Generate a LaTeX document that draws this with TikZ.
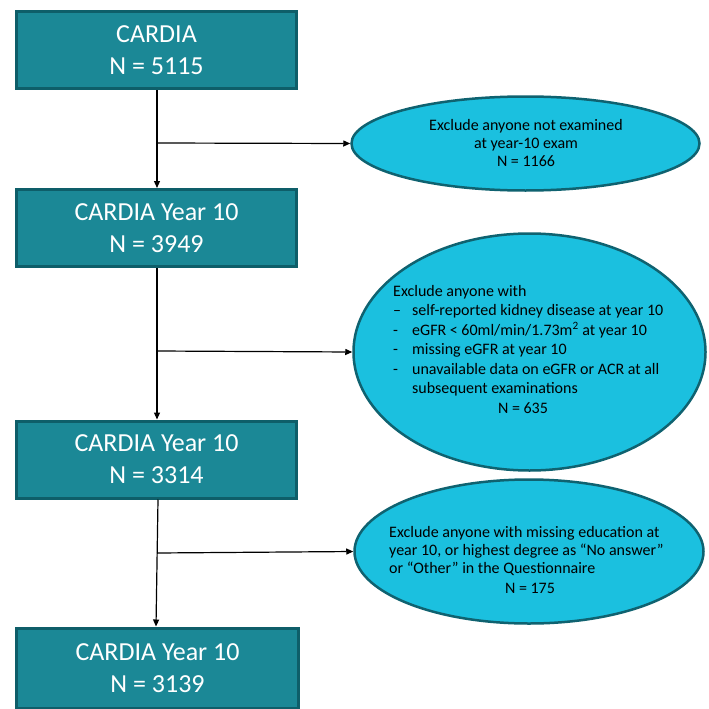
\documentclass[tikz,border=0pt]{standalone}
\usepackage{fontspec}
\setmainfont{Carlito}
\usetikzlibrary{shapes.geometric,arrows.meta}
\definecolor{boxfill}{HTML}{1B8896}
\definecolor{boxline}{HTML}{0E5E69}
\definecolor{ellfill}{HTML}{1BC0DF}
\definecolor{ellline}{HTML}{0F6270}
\tikzset{
  stagebox/.style={draw=boxline, fill=boxfill, line width=3pt, minimum width=280pt, minimum height=77pt, inner sep=0pt, text=white, align=center, font=\fontsize{26}{32}\selectfont},
  exclell/.style={draw=ellline, fill=ellfill, line width=2.5pt, ellipse, inner sep=0pt},
  etext/.style={inner sep=0pt, text=black, font=\fontsize{16}{19.5}\selectfont},
  etextsm/.style={inner sep=0pt, text=black, font=\fontsize{16}{18.2}\selectfont},
  flow/.style={line width=1.2pt, draw=black, -{Triangle[length=7pt,width=6pt]}},
  branch/.style={line width=1.2pt, draw=black, -{Triangle[length=7pt,width=6pt]}}
}
\begin{document}
\begin{tikzpicture}[x=1pt,y=-1pt]
\useasboundingbox (0,0) rectangle (709,709);
\clip (0,0) rectangle (709,709);
\fill[white] (0,0) rectangle (709,709);

\node[stagebox] (b1) at (156.5,50) {CARDIA\\N = 5115};
\node[stagebox] (b2) at (156.5,228) {CARDIA Year 10\\N = 3949};
\node[stagebox] (b3) at (156.5,459.5) {CARDIA Year 10\\N = 3314};
\node[stagebox, minimum width=282pt, minimum height=80pt] (b4) at (157.5,668) {CARDIA Year 10\\N = 3139};

\node[exclell, minimum width=348pt, minimum height=94pt] (e1) at (525.5,143.5) {};
\node[exclell, minimum width=352pt, minimum height=237pt] (e2) at (529.5,352) {};
\node[exclell, minimum width=349pt, minimum height=144pt] (e3) at (529,551.5) {};

\node[etextsm, align=center] (t1) at (526,143) {Exclude anyone not examined\\at year-10 exam\\N = 1166};

\node[etext, align=left, anchor=north west] (t2) at (393,285) {Exclude anyone with\\
\makebox[19pt][l]{–}self-reported kidney disease at year 10\\
\makebox[19pt][l]{-}eGFR < 60ml/min/1.73m\textsuperscript{2} at year 10\\
\makebox[19pt][l]{-}missing eGFR at year 10\\
\makebox[19pt][l]{-}unavailable data on eGFR or ACR at all\\
\makebox[19pt][l]{}subsequent examinations};
\node[etext] (t2n) at (523,408) {N = 635};

\node[etextsm, align=left, anchor=north west] (t3) at (389,526) {Exclude anyone with missing education at\\
year 10, or highest degree as “No answer”\\
or “Other” in the Questionnaire};
\node[etext] (t3n) at (530,588) {N = 175};

\coordinate (j1) at (157,143);
\coordinate (j2) at (157,351);
\coordinate (j3) at (157,553);

\draw[flow] (b1.south -| 157,0) -- (b2.north -| 157,0);
\draw[flow] (b2.south -| 157,0) -- (b3.north -| 157,0);
\draw[flow] (b3.south -| 158,0) -- (b4.north -| 156,0);
\draw[branch] (j1) -- (e1.west);
\draw[branch] (j2) -- (e2.west);
\draw[branch] (j3) -- (e3.west);
\end{tikzpicture}
\end{document}
